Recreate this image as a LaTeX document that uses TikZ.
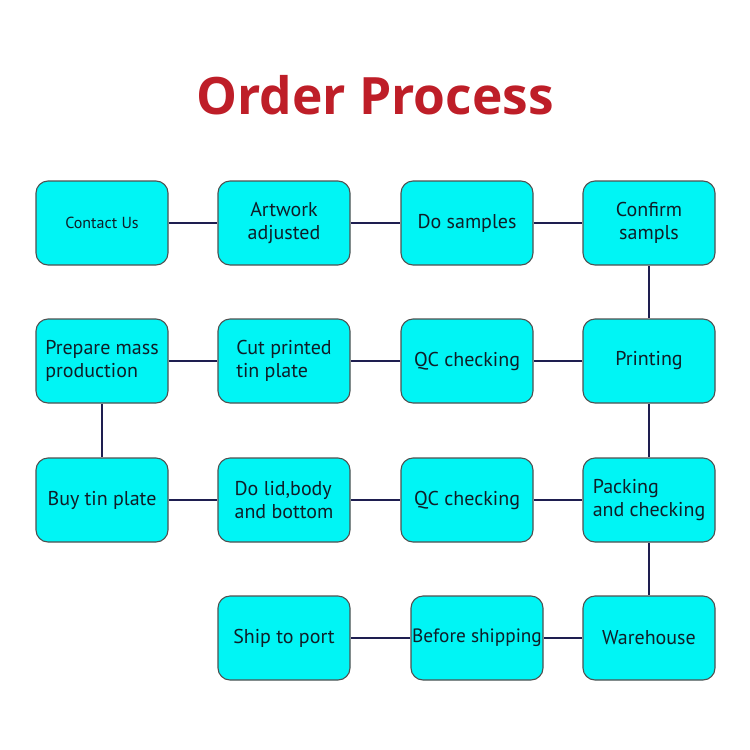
\documentclass[tikz,border=0pt]{standalone}
\usepackage{fontspec}
\setmainfont{PT Sans}
\newfontfamily\titlefont{Open Sans}
\definecolor{boxfill}{RGB}{0,245,245}
\definecolor{boxline}{RGB}{80,80,80}
\definecolor{linkcol}{RGB}{30,30,80}
\definecolor{titlered}{RGB}{190,30,40}
\definecolor{textcol}{RGB}{15,30,40}
\begin{document}
\begin{tikzpicture}[x=1pt,y=-1pt,
  stepbox/.style={draw=boxline,line width=1.1pt,fill=boxfill,rounded corners=12pt,
    minimum width=132pt,minimum height=84pt,inner sep=2pt,font=\fontsize{20}{23}\selectfont,text=textcol},
  link/.style={draw=linkcol,line width=1.5pt}]
\useasboundingbox (0,0) rectangle (750,750);
\node[font=\titlefont\bfseries\fontsize{51.5}{58}\selectfont,text=titlered] (title) at (375,95) {Order Process};
% row 1
\node[stepbox,font=\fontsize{16}{19}\selectfont] (contact) at (102,223) {Contact Us};
\node[stepbox,align=center] (artwork) at (284,223) {Artwork\\adjusted};
\node[stepbox] (samples) at (467,223) {Do samples};
\node[stepbox,align=center] (confirm) at (649,223) {Confirm\\sampls};
% row 2
\node[stepbox,align=left] (prepare) at (102,361) {Prepare mass\\production};
\node[stepbox,align=left] (cut) at (284,361) {Cut printed\\tin plate};
\node[stepbox] (qc1) at (467,361) {QC checking};
\node[stepbox] (printing) at (649,361) {Printing};
% row 3
\node[stepbox] (buy) at (102,500) {Buy tin plate};
\node[stepbox,align=left] (lid) at (284,500) {Do lid,body\\and bottom};
\node[stepbox] (qc2) at (467,500) {QC checking};
\node[stepbox,align=left] (packing) at (649,500) {Packing\\and checking};
% row 4
\node[stepbox] (ship) at (284,638) {Ship to port};
\node[stepbox,inner sep=0pt,font=\fontsize{19.3}{22}\selectfont] (before) at (477,638) {Before shipping};
\node[stepbox] (warehouse) at (649,638) {Warehouse};
% connectors
\draw[link] (contact) -- (artwork);
\draw[link] (artwork) -- (samples);
\draw[link] (samples) -- (confirm);
\draw[link] (confirm) -- (printing);
\draw[link] (printing) -- (qc1);
\draw[link] (qc1) -- (cut);
\draw[link] (cut) -- (prepare);
\draw[link] (prepare) -- (buy);
\draw[link] (buy) -- (lid);
\draw[link] (lid) -- (qc2);
\draw[link] (qc2) -- (packing);
\draw[link] (printing) -- (packing);
\draw[link] (packing) -- (warehouse);
\draw[link] (warehouse) -- (before);
\draw[link] (before) -- (ship);
\end{tikzpicture}
\end{document}
